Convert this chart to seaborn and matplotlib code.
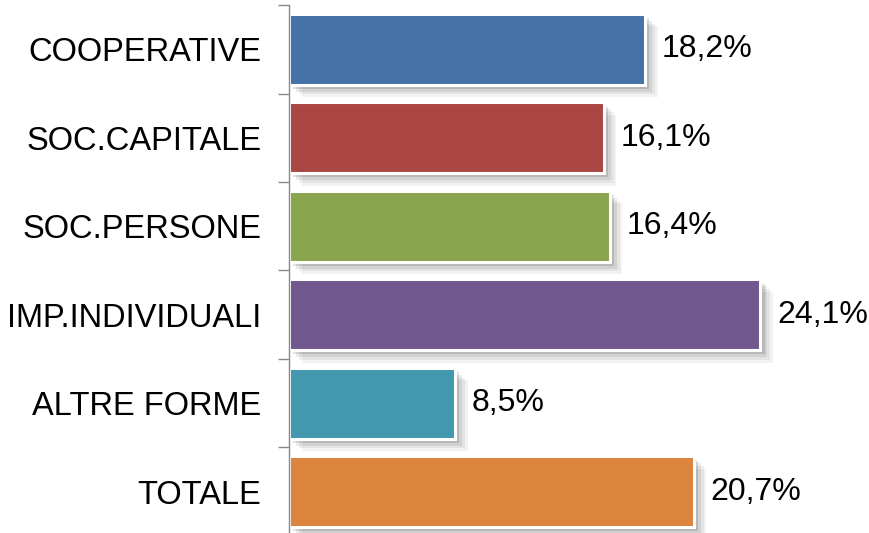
import matplotlib
matplotlib.use("Agg")
import matplotlib.pyplot as plt
import matplotlib.patheffects as pe
import seaborn as sns
import pandas as pd

# --- data ---
categories = ["COOPERATIVE", "SOC.CAPITALE", "SOC.PERSONE",
              "IMP.INDIVIDUALI", "ALTRE FORME", "TOTALE"]
values = [18.2, 16.1, 16.4, 24.1, 8.5, 20.7]
colors = ["#4572A7", "#AA4643", "#89A54E", "#71588F", "#4198AF", "#DB843D"]

df = pd.DataFrame({"Categoria": categories, "Valore": values})

sns.set_theme(style="white")
plt.rcParams["font.family"] = ["Liberation Sans", "DejaVu Sans"]

fig = plt.figure(figsize=(8.69, 5.33), dpi=100)
ax = fig.add_axes([289 / 869, -0.0056, 580 / 869, 0.9962])

sns.barplot(data=df, y="Categoria", x="Valore", hue="Categoria", order=categories,
            palette=dict(zip(categories, colors)), legend=False, orient="h",
            width=0.8, edgecolor="white", linewidth=2.2, saturation=1, ax=ax)

# soft drop shadow, roughly like the office chart
shadow = [pe.SimplePatchShadow(offset=(o, -o), shadow_rgbFace="#000000", alpha=a)
          for o, a in [(9, 0.05), (7, 0.06), (5, 0.08), (3, 0.12)]]
for p in ax.patches:
    p.set_path_effects(shadow + [pe.Normal()])

# value labels just right of each bar
for p in ax.patches:
    w = p.get_width()
    yc = p.get_y() + p.get_height() / 2
    ax.annotate(f"{w:.1f}%".replace(".", ","), (w, yc), xytext=(12, 0),
                textcoords="offset points", va="center", ha="left",
                fontsize=23, color="black")

ax.set_xlim(0, 29.65)
ax.set_ylim(len(categories) - 0.5, -0.5)
ax.set_xlabel("")
ax.set_ylabel("")
ax.set_xticks([])

# ticks sit on the category boundaries, labels stay centred
ax.set_yticks(range(len(categories)))
ax.set_yticklabels(categories, fontsize=23.5, color="black")
ax.set_yticks([i - 0.5 for i in range(len(categories) + 1)], minor=True)
ax.tick_params(axis="y", which="major", length=0, pad=20)
ax.tick_params(axis="y", which="minor", length=8, width=1, color="#888888", left=True)

for s in ["top", "right", "bottom"]:
    ax.spines[s].set_visible(False)
ax.spines["left"].set_color("#888888")
ax.spines["left"].set_linewidth(1)

fig.savefig("out.png", dpi=100)
